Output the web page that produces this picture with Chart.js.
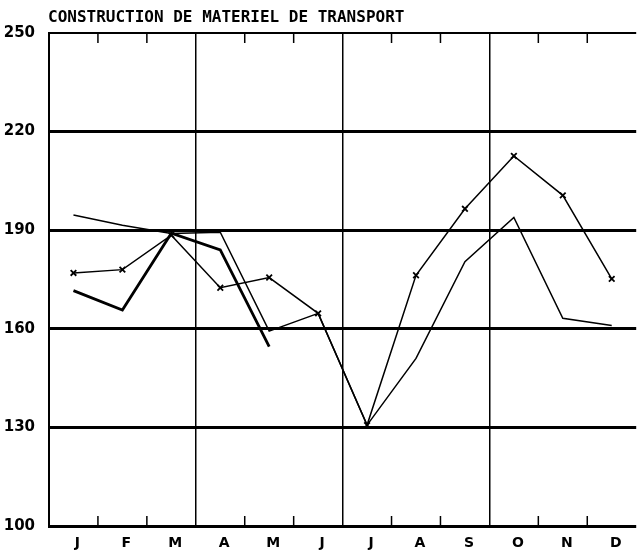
<!DOCTYPE html>
<html>
<head>
<meta charset="utf-8">
<script src="https://cdn.jsdelivr.net/npm/chart.js@4/dist/chart.umd.min.js"></script>
<style>
  html, body { margin: 0; padding: 0; background: #fff; overflow: hidden; }
  /* chart.js keeps ~5px free on the right; the reference plot runs to the page edge */
  #wrap { width: 642px; height: 555px; position: relative; }
</style>
</head>
<body>
<div id="wrap"><canvas id="chart"></canvas></div>
<script>
// values
const title = 'CONSTRUCTION DE MATERIEL DE TRANSPORT';
const months = ['J', 'F', 'M', 'A', 'M', 'J', 'J', 'A', 'S', 'O', 'N', 'D'];
const yTicks = [100, 130, 160, 190, 220, 250];
const crossSeries = [177, 178, 188.5, 172.5, 175.6, 164.7, 130.7, 176.3, 196.5, 212.6, 200.6, 175.2];
const thinSeries = [194.6, 191.5, 189, 189.4, 159.3, 164.7, 130.7, 151, 180.4, 193.9, 163.2, 161];
const thickSeries = [171.6, 165.7, 189.1, 184, 154.6, null, null, null, null, null, null, null];

// title at the left edge of the plot and short month ticks inside the frame
const decor = {
  id: 'decor',
  afterDraw(chart) {
    const ctx = chart.ctx;
    const area = chart.chartArea;
    const x = chart.scales.x;
    ctx.save();
    ctx.fillStyle = '#000';
    ctx.font = 'bold 16px "DejaVu Sans Mono"';
    ctx.textBaseline = 'alphabetic';
    ctx.textAlign = 'left';
    ctx.fillText(title, area.left - 1, 22);

    ctx.strokeStyle = '#000';
    ctx.lineWidth = 1.5;
    for (let i = 1; i < months.length; i++) {
      if (i % 3 === 0) continue;
      const px = (x.getPixelForTick(i) + x.getPixelForTick(i - 1)) / 2;
      ctx.beginPath();
      ctx.moveTo(px, area.top);
      ctx.lineTo(px, area.top + 10);
      ctx.moveTo(px, area.bottom);
      ctx.lineTo(px, area.bottom - 10);
      ctx.stroke();
    }
    ctx.restore();
  }
};

new Chart(document.getElementById('chart'), {
  type: 'line',
  data: {
    labels: months,
    datasets: [
      {
        data: crossSeries,
        borderColor: '#000',
        borderWidth: 1.5,
        pointStyle: 'crossRot',
        pointRadius: 4,
        pointBorderWidth: 1.8,
        pointBorderColor: '#000',
        tension: 0
      },
      {
        data: thinSeries,
        borderColor: '#000',
        borderWidth: 1.5,
        pointRadius: 0,
        tension: 0
      },
      {
        data: thickSeries,
        borderColor: '#000',
        borderWidth: 2.8,
        pointRadius: 0,
        spanGaps: false,
        tension: 0
      }
    ]
  },
  options: {
    responsive: true,
    maintainAspectRatio: false,
    animation: false,
    layout: { padding: { top: 33, right: 0, left: 0, bottom: 0 } },
    plugins: {
      legend: { display: false },
      tooltip: { enabled: false },
      title: { display: false }
    },
    scales: {
      x: {
        type: 'category',
        offset: true,
        afterFit: s => { s.height = 29; s.paddingLeft = 0; s.paddingRight = 0; },
        border: { display: false },
        grid: {
          offset: true,
          drawTicks: false,
          color: c => (c.index !== undefined && c.index % 3 === 0 && c.index < 12) ? '#000' : 'rgba(0,0,0,0)',
          lineWidth: 1.5
        },
        ticks: {
          color: '#000',
          font: { family: 'DejaVu Sans', weight: 'bold', size: 14 },
          padding: 9,
          labelOffset: 4,
          maxRotation: 0,
          autoSkip: false
        }
      },
      y: {
        min: 100,
        max: 250,
        afterFit: s => { s.width = 49; },
        afterBuildTicks: s => { s.ticks = yTicks.map(v => ({ value: v })); },
        border: { display: true, color: '#000', width: 2 },
        grid: {
          drawTicks: false,
          color: '#000',
          lineWidth: c => (c.tick && c.tick.value === 250) ? 2 : 3
        },
        ticks: {
          color: '#000',
          font: { family: 'DejaVu Sans', weight: 'bold', size: 15 },
          padding: 14
        }
      }
    }
  },
  plugins: [decor]
});
</script>
</body>
</html>
